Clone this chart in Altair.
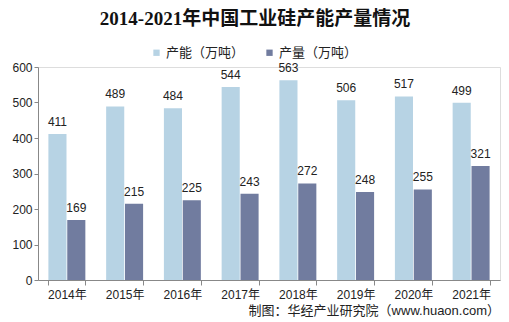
import altair as alt
import pandas as pd

years = ["2014年", "2015年", "2016年", "2017年", "2018年", "2019年", "2020年", "2021年"]
capacity = [411, 489, 484, 544, 563, 506, 517, 499]
output = [169, 215, 225, 243, 272, 248, 255, 321]
series = ["产能（万吨）", "产量（万吨）"]
colors = ["#b7d3e4", "#717c9f"]
title_text = "2014-2021年中国工业硅产能产量情况"
source_text = "制图：华经产业研究院（www.huaon.com）"

rows = []
for y, c, o in zip(years, capacity, output):
    rows.append({"year": y, "series": series[0], "value": c})
    rows.append({"year": y, "series": series[1], "value": o})
df = pd.DataFrame(rows)

sans = "Liberation Sans, Noto Sans CJK SC, sans-serif"

yaxis = alt.Axis(
    title=None, values=[0, 100, 200, 300, 400, 500, 600], grid=False,
    labelOverlap=False, labelFont=sans, labelFontSize=12, labelColor="#222",
    domainColor="#888", tickColor="#888", tickSize=4,
)

base = alt.Chart(df).encode(
    x=alt.X(
        "year:N",
        sort=years,
        scale=alt.Scale(paddingInner=0.36, paddingOuter=0.18),
        axis=alt.Axis(
            title=None, labelAngle=0, tickBand="extent", labelFont=sans,
            labelFontSize=12, labelColor="#222", domainColor="#888",
            tickColor="#888", tickSize=5, labelPadding=4,
        ),
    ),
    xOffset=alt.XOffset("series:N", sort=series, scale=alt.Scale(paddingInner=0.04)),
    y=alt.Y("value:Q", scale=alt.Scale(domain=[0, 600]), axis=yaxis),
)

bars = base.mark_bar().encode(
    color=alt.Color(
        "series:N",
        sort=series,
        scale=alt.Scale(domain=series, range=colors),
        legend=alt.Legend(
            title=None, orient="none", legendX=112, legendY=-21,
            direction="horizontal", symbolType="square", symbolSize=40,
            symbolStrokeWidth=0, labelFont=sans, labelFontSize=13,
            labelColor="#222", columnPadding=18, labelOffset=3,
        ),
    ),
)

labels = base.mark_text(baseline="bottom", dy=-5, font=sans, fontSize=12, color="#222").encode(
    text=alt.Text("value:Q"),
)

src = alt.Chart(pd.DataFrame({"t": [source_text]})).mark_text(
    align="right", baseline="middle", font=sans, fontSize=13, color="#222"
).encode(x=alt.value(462), y=alt.value(244), text="t:N")

chart = alt.layer(bars, labels, src).properties(
    width=462,
    height=213,
    padding={"left": 38, "top": 67, "right": 9, "bottom": 42},
    autosize=alt.AutoSizeParams(type="none"),
    title=alt.TitleParams(
        title_text, font="Liberation Serif, Noto Sans CJK SC, serif",
        fontSize=19, fontWeight="bold", color="#111", anchor="middle",
        dx=-14, offset=17,
    ),
).configure_view(stroke=None).configure(background="white")

chart.save("out.html", embed_options={"renderer": "svg", "actions": False})
